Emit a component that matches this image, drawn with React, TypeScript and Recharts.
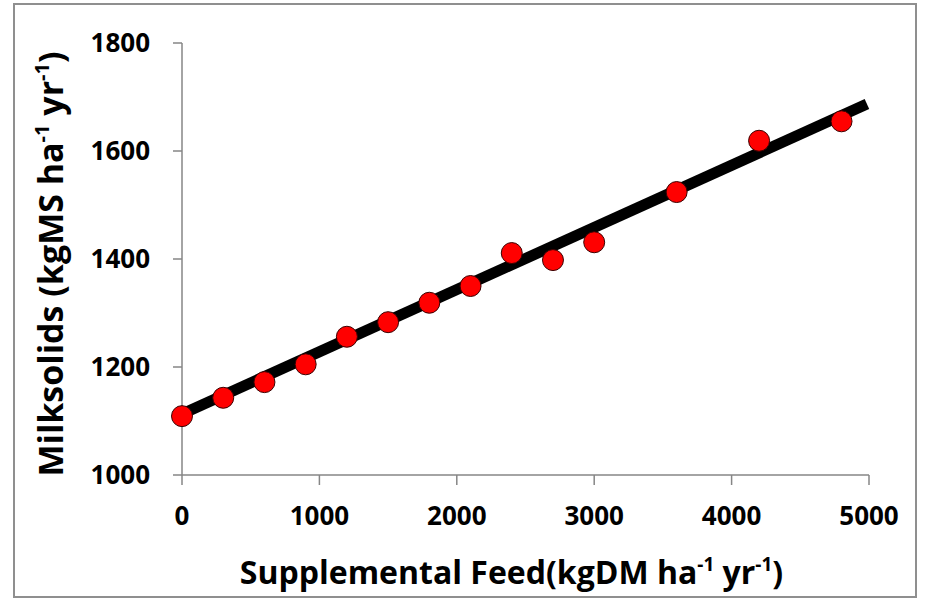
import { ComposedChart, Scatter, Line, XAxis, YAxis, Label } from "recharts";

const feed = [0, 300, 600, 900, 1200, 1500, 1800, 2100, 2400, 2700, 3000, 3600, 4200, 4800];
const milksolids = [1109, 1143, 1172, 1205, 1256, 1283, 1319, 1350, 1411, 1398, 1431, 1524, 1619, 1655];
const trendFeed = [0, 4985];
const trendMilksolids = [1113, 1687];
const xTicks = [0, 1000, 2000, 3000, 4000, 5000];
const yTicks = [1000, 1200, 1400, 1600, 1800];

const points = feed.map((x, i) => ({ x, y: milksolids[i] }));
const trend = trendFeed.map((x, i) => ({ x, y: trendMilksolids[i] }));

const FONT = "'Open Sans', sans-serif";
const axisColor = "#868686";

const XTitle = ({ viewBox }: any) => {
  const cx = viewBox.x + viewBox.width / 2 - 14;
  const y = viewBox.y + 109;
  return (
    <text x={cx} y={y} textAnchor="middle" fontFamily={FONT} fontWeight={700} fontSize={32} fill="#000">
      Supplemental Feed(kgDM ha
      <tspan dy={-13} fontSize={19}>-1</tspan>
      <tspan dy={13}> yr</tspan>
      <tspan dy={-13} fontSize={19}>-1</tspan>
      <tspan dy={13}>)</tspan>
    </text>
  );
};

const YTitle = ({ viewBox }: any) => {
  const cy = viewBox.y + viewBox.height / 2 + 5;
  const x = 63;
  return (
    <text x={x} y={cy} transform={`rotate(-90, ${x}, ${cy})`} textAnchor="middle" fontFamily={FONT} fontWeight={700} fontSize={34} fill="#000">
      Milksolids (kgMS ha
      <tspan dy={-14} fontSize={20}>-1</tspan>
      <tspan dy={14}> yr</tspan>
      <tspan dy={-14} fontSize={20}>-1</tspan>
      <tspan dy={14}>)</tspan>
    </text>
  );
};

export default function App() {
  return (
    <div style={{ position: "absolute", left: 0, top: 0, width: 925, height: 601, background: "#fff" }}>
      <div
        style={{
          position: "absolute",
          left: 13,
          top: 3,
          width: 904,
          height: 595,
          border: "2px solid #8f8f8f",
          boxSizing: "border-box",
        }}
      />
      <ComposedChart width={925} height={601} margin={{ top: 43, right: 56, bottom: 0, left: 0 }}>
        <XAxis
          type="number"
          dataKey="x"
          domain={[0, 5000]}
          ticks={xTicks}
          height={126}
          stroke={axisColor}
          strokeWidth={1.5}
          tickSize={10}
          tickMargin={22}
          tick={{ fill: "#000", fontSize: 26, fontWeight: 700, fontFamily: FONT }}
        >
          <Label content={<XTitle />} />
        </XAxis>
        <YAxis
          type="number"
          dataKey="y"
          domain={[1000, 1800]}
          ticks={yTicks}
          width={182}
          stroke={axisColor}
          strokeWidth={1.5}
          tickSize={9}
          tickMargin={23}
          tick={{ fill: "#000", fontSize: 26, fontWeight: 700, fontFamily: FONT }}
        >
          <Label content={<YTitle />} />
        </YAxis>
        <Scatter
          data={points}
          dataKey="y"
          fill="#ff0000"
          stroke="#3a0000"
          strokeWidth={1}
          shape={(p: any) => <circle cx={p.cx} cy={p.cy} r={10.5} fill="#ff0000" stroke="#3a0000" strokeWidth={1} />}
          isAnimationActive={false}
        />
        <Line
          data={trend}
          dataKey="y"
          type="linear"
          stroke="#000"
          strokeWidth={11}
          dot={false}
          activeDot={false}
          isAnimationActive={false}
        />
      </ComposedChart>
    </div>
  );
}
